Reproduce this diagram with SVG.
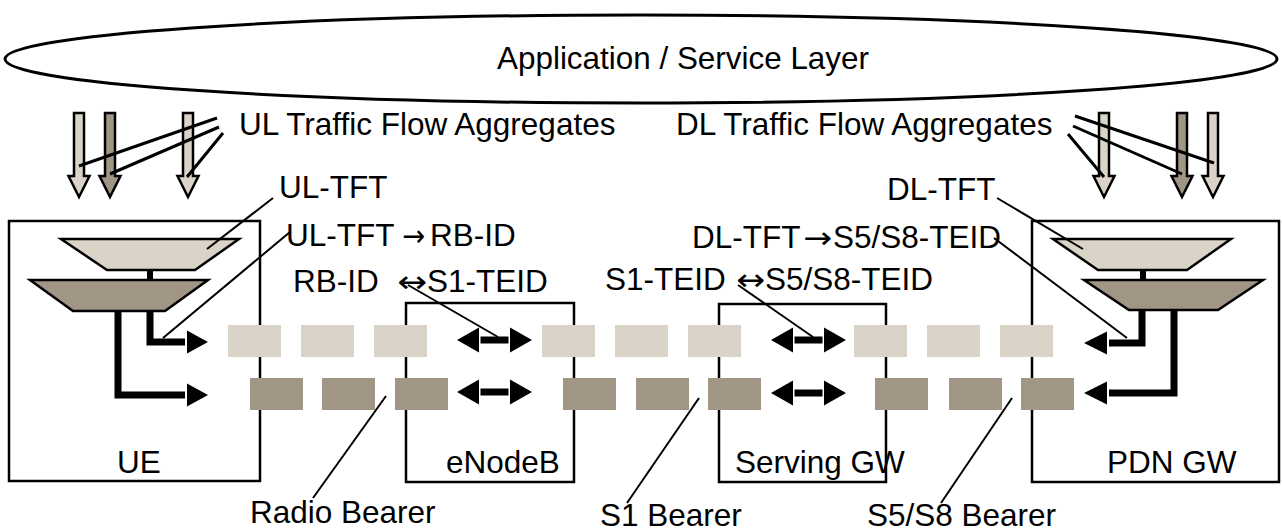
<svg xmlns="http://www.w3.org/2000/svg" width="1282" height="531" viewBox="0 0 1282 531">
<style>
text{font-family:"Liberation Sans",Arial,sans-serif;font-size:31.5px;fill:#000}
text.ar{font-family:"DejaVu Sans",sans-serif;font-size:30px}
.box{fill:none;stroke:#000;stroke-width:2.5}
.lt{fill:#dad3c7}
.dk{fill:#a19585}
.trap{stroke:#000;stroke-width:2.5;stroke-linejoin:miter}
.down{stroke:#000;stroke-width:2.5;stroke-linejoin:miter}
.lead{fill:none;stroke:#000;stroke-width:2}
.flow{fill:none;stroke:#000;stroke-width:3}
.thick{fill:none;stroke:#000;stroke-width:7;stroke-linejoin:miter}
</style>
<defs>
<polygon id="darrow" points="-5,0 5,0 5,63 10.5,63 0,84 -10.5,63 -5,63"/>
<g id="dbl">
<rect x="-14" y="-3.5" width="28" height="7" fill="#000"/>
<polygon points="-15.5,-12.5 -15.5,12.5 -37.5,0" fill="#000"/>
<polygon points="15.5,-12.5 15.5,12.5 37.5,0" fill="#000"/>
</g>
<polygon id="headR" points="0,-11.5 0,11.5 21,0" fill="#000"/>
<polygon id="headL" points="0,-11.5 0,11.5 -23,0" fill="#000"/>
</defs>

<g id="app-layer">
<ellipse cx="641" cy="59" rx="636" ry="44" fill="none" stroke="#000" stroke-width="3"/>
<text x="497" y="69" textLength="372" lengthAdjust="spacingAndGlyphs">Application / Service Layer</text>
</g>

<g id="ul-flows">
<use href="#darrow" x="79" y="113" class="lt down"/>
<use href="#darrow" x="110" y="113" class="dk down"/>
<use href="#darrow" x="188" y="113" class="lt down"/>
<text x="239" y="135">UL Traffic Flow Aggregates</text>
</g>

<g id="dl-flows">
<use href="#darrow" x="1104" y="113" class="lt down"/>
<use href="#darrow" x="1182" y="113" class="dk down"/>
<use href="#darrow" x="1213" y="113" class="lt down"/>
<text x="676" y="135">DL Traffic Flow Aggregates</text>
</g>

<g id="ue">
<rect class="box" x="9" y="221" width="251" height="260"/>
<polygon class="lt trap" points="61,239 239,239 195,270 107,270"/>
<rect x="147" y="270" width="6" height="10" fill="#000"/>
<polygon class="dk trap" points="30,280 208,280 165,311 73,311"/>
<path class="thick" d="M150 311V342H185"/>
<use href="#headR" x="187" y="342"/>
<path class="thick" d="M118 311V395H185"/>
<use href="#headR" x="187" y="395"/>
<text x="139" y="473" text-anchor="middle">UE</text>
</g>

<g id="enodeb">
<rect class="box" x="406" y="303" width="168" height="179"/>
<use href="#dbl" x="494.5" y="340"/>
<use href="#dbl" x="494.5" y="392"/>
<text x="446" y="473">eNodeB</text>
</g>

<g id="serving-gw">
<rect class="box" x="719" y="304" width="167" height="178"/>
<use href="#dbl" x="808.5" y="340"/>
<use href="#dbl" x="808.5" y="393"/>
<text x="735" y="473">Serving GW</text>
</g>

<g id="pdn-gw">
<rect class="box" x="1032" y="221" width="247" height="261"/>
<polygon class="lt trap" points="1053,239 1231,239 1187,270 1098,270"/>
<rect x="1140" y="270" width="6" height="10" fill="#000"/>
<polygon class="dk trap" points="1084,280 1263,280 1218,310 1129,310"/>
<path class="thick" d="M1142 310V343H1109"/>
<use href="#headL" x="1107" y="343"/>
<path class="thick" d="M1174 310V393H1109"/>
<use href="#headL" x="1107" y="393"/>
<text x="1107" y="473">PDN GW</text>
</g>

<g id="bearers">
<g class="lt">
<rect x="228" y="325" width="53" height="32"/>
<rect x="301" y="325" width="53" height="32"/>
<rect x="374" y="325" width="53" height="32"/>
<rect x="542" y="325" width="53" height="32"/>
<rect x="615" y="325" width="53" height="32"/>
<rect x="688" y="325" width="53" height="32"/>
<rect x="854" y="325" width="53" height="32"/>
<rect x="927" y="325" width="53" height="32"/>
<rect x="1000" y="325" width="53" height="32"/>
</g>
<g class="dk">
<rect x="250" y="378" width="53" height="32"/>
<rect x="322" y="378" width="53" height="32"/>
<rect x="395" y="378" width="53" height="32"/>
<rect x="563" y="378" width="53" height="32"/>
<rect x="636" y="378" width="53" height="32"/>
<rect x="708" y="378" width="53" height="32"/>
<rect x="875" y="378" width="53" height="32"/>
<rect x="949" y="378" width="53" height="32"/>
<rect x="1021" y="378" width="53" height="32"/>
</g>
</g>

<g id="labels">
<text x="279" y="198">UL-TFT</text>
<text x="286" y="246">UL-TFT</text>
<text class="ar" x="402" y="246" textLength="23" lengthAdjust="spacingAndGlyphs">→</text>
<text x="430" y="246">RB-ID</text>
<text x="293" y="292">RB-ID</text>
<text class="ar" x="397" y="292" textLength="30" lengthAdjust="spacingAndGlyphs">↔</text>
<text x="427" y="292">S1-TEID</text>
<text x="887" y="200">DL-TFT</text>
<text x="692" y="248">DL-TFT</text>
<text class="ar" x="803" y="248" textLength="29" lengthAdjust="spacingAndGlyphs">→</text>
<text x="833" y="248">S5/S8-TEID</text>
<text x="605" y="290">S1-TEID</text>
<text class="ar" x="736" y="290" textLength="29" lengthAdjust="spacingAndGlyphs">↔</text>
<text x="765" y="290">S5/S8-TEID</text>
<text x="250" y="523">Radio Bearer</text>
<text x="600" y="526">S1 Bearer</text>
<text x="867" y="526">S5/S8 Bearer</text>
</g>

<g id="connectors">
<line class="flow" x1="217" y1="118" x2="79" y2="166"/>
<line class="flow" x1="219" y1="127" x2="110" y2="174"/>
<line class="flow" x1="223" y1="133" x2="187" y2="177"/>
<line class="flow" x1="1075" y1="116" x2="1214" y2="163"/>
<line class="flow" x1="1073" y1="126" x2="1182" y2="174"/>
<line class="flow" x1="1068" y1="134" x2="1104" y2="177"/>
<line class="lead" x1="273" y1="198" x2="207" y2="249"/>
<line class="lead" x1="290" y1="232" x2="163" y2="338"/>
<line class="lead" x1="408" y1="285" x2="498" y2="337"/>
<line class="lead" x1="738" y1="285" x2="813" y2="337"/>
<line class="lead" x1="997" y1="198" x2="1083" y2="249"/>
<line class="lead" x1="994" y1="238" x2="1127" y2="338"/>
<line class="lead" x1="386" y1="396" x2="313" y2="498"/>
<line class="lead" x1="699" y1="398" x2="627" y2="503"/>
<line class="lead" x1="1012" y1="398" x2="941" y2="503"/>
</g>
</svg>
